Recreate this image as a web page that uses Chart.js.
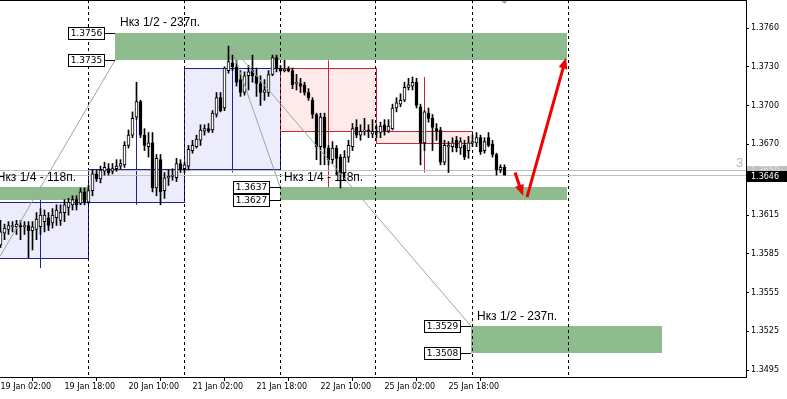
<!DOCTYPE html>
<html><head><meta charset="utf-8">
<script src="https://cdn.jsdelivr.net/npm/chart.js@4.4.1/dist/chart.umd.min.js"></script>
<style>html,body{margin:0;padding:0;background:#fff;overflow:hidden}#wrap{width:787px;height:399px;position:relative}</style>
</head><body><div id="wrap"><canvas id="c" width="787" height="399"></canvas></div>
<script>
// H1 bars, hour index counted in trading hours from 19 Jan 00:00
const firstBarHour = 2;
const barOpen = [
1.3592,1.3601,1.3604,1.3606,1.3606,1.3607,1.3606,1.3607,1.3603,1.3604,
1.3606,1.3610,1.3613,1.3609,1.3613,1.3611,1.3617,1.3621,1.3623,1.3627,
1.3624,1.3633,1.3625,1.3634,1.3647,1.3643,1.3649,1.3651,1.3649,1.3651,
1.3653,1.3654,1.3669,1.3677,1.3691,1.3703,1.3677,1.3668,1.3671,1.3636,
1.3658,1.3634,1.3644,1.3645,1.3644,1.3655,1.3651,1.3653,1.3665,1.3668,
1.3673,1.3680,1.3682,1.3681,1.3693,1.3706,1.3698,1.3727,1.3733,1.3730,
1.3720,1.3710,1.3723,1.3727,1.3723,1.3717,1.3710,1.3710,1.3724,1.3737,
1.3729,1.3727,1.3728,1.3727,1.3717,1.3717,1.3716,1.3710,1.3704,1.3693,
1.3668,1.3691,1.3667,1.3658,1.3667,1.3660,1.3648,1.3660,1.3668,1.3683,
1.3677,1.3680,1.3681,1.3678,1.3680,1.3679,1.3685,1.3680,1.3682,1.3698,
1.3701,1.3704,1.3714,1.3715,1.3718,1.3699,1.3671,1.3694,1.3690,1.3682,
1.3681,1.3656,1.3668,1.3668,1.3673,1.3667,1.3669,1.3665,1.3671,1.3671,
1.3675,1.3665,1.3675,1.3670,1.3662,1.3650,1.3652];
const barHigh = [
1.3611,1.3608,1.3610,1.3610,1.3611,1.3611,1.3610,1.3610,1.3610,1.3617,
1.3620,1.3619,1.3617,1.3620,1.3623,1.3623,1.3627,1.3628,1.3630,1.3630,
1.3636,1.3636,1.3638,1.3650,1.3650,1.3653,1.3656,1.3655,1.3655,1.3658,
1.3658,1.3672,1.3681,1.3695,1.3718,1.3704,1.3682,1.3679,1.3679,1.3662,
1.3662,1.3648,1.3650,1.3651,1.3659,1.3658,1.3656,1.3669,1.3673,1.3677,
1.3685,1.3685,1.3686,1.3696,1.3710,1.3710,1.3730,1.3746,1.3739,1.3735,
1.3727,1.3726,1.3731,1.3739,1.3729,1.3723,1.3720,1.3727,1.3739,1.3739,
1.3731,1.3735,1.3730,1.3729,1.3724,1.3721,1.3718,1.3713,1.3706,1.3694,
1.3694,1.3694,1.3669,1.3672,1.3669,1.3662,1.3665,1.3673,1.3686,1.3689,
1.3685,1.3690,1.3685,1.3689,1.3685,1.3687,1.3689,1.3689,1.3701,1.3706,
1.3709,1.3718,1.3721,1.3722,1.3721,1.3701,1.3696,1.3698,1.3693,1.3686,
1.3683,1.3673,1.3672,1.3675,1.3676,1.3675,1.3673,1.3676,1.3677,1.3679,
1.3677,1.3675,1.3679,1.3673,1.3663,1.3654,1.3654];
const barLow = [
1.3590,1.3596,1.3600,1.3602,1.3600,1.3596,1.3600,1.3582,1.3588,1.3596,
1.3600,1.3602,1.3603,1.3605,1.3607,1.3607,1.3610,1.3615,1.3619,1.3619,
1.3623,1.3623,1.3624,1.3630,1.3641,1.3640,1.3646,1.3646,1.3647,1.3649,
1.3651,1.3652,1.3667,1.3675,1.3689,1.3675,1.3665,1.3660,1.3633,1.3630,
1.3623,1.3628,1.3638,1.3642,1.3641,1.3648,1.3648,1.3650,1.3663,1.3667,
1.3669,1.3677,1.3679,1.3679,1.3691,1.3695,1.3696,1.3725,1.3727,1.3715,
1.3707,1.3708,1.3712,1.3718,1.3707,1.3700,1.3704,1.3707,1.3723,1.3726,
1.3726,1.3726,1.3726,1.3713,1.3712,1.3710,1.3708,1.3704,1.3690,1.3658,
1.3654,1.3654,1.3654,1.3655,1.3646,1.3636,1.3642,1.3656,1.3665,1.3675,
1.3673,1.3677,1.3675,1.3675,1.3675,1.3675,1.3677,1.3679,1.3681,1.3695,
1.3699,1.3703,1.3712,1.3712,1.3698,1.3654,1.3665,1.3687,1.3665,1.3673,
1.3654,1.3654,1.3648,1.3664,1.3664,1.3662,1.3658,1.3659,1.3668,1.3668,
1.3662,1.3663,1.3668,1.3660,1.3646,1.3648,1.3646];
const barClose = [
1.3602,1.3605,1.3607,1.3607,1.3608,1.3606,1.3607,1.3603,1.3606,1.3612,
1.3615,1.3615,1.3607,1.3615,1.3619,1.3617,1.3623,1.3625,1.3627,1.3623,
1.3633,1.3625,1.3634,1.3647,1.3643,1.3650,1.3652,1.3648,1.3651,1.3653,
1.3655,1.3669,1.3677,1.3690,1.3703,1.3677,1.3669,1.3671,1.3636,1.3659,
1.3633,1.3644,1.3645,1.3646,1.3655,1.3651,1.3654,1.3666,1.3669,1.3674,
1.3681,1.3682,1.3680,1.3694,1.3706,1.3696,1.3729,1.3734,1.3730,1.3718,
1.3710,1.3723,1.3726,1.3723,1.3717,1.3710,1.3712,1.3724,1.3737,1.3729,
1.3727,1.3728,1.3727,1.3716,1.3718,1.3715,1.3710,1.3706,1.3693,1.3668,
1.3691,1.3667,1.3658,1.3667,1.3659,1.3648,1.3660,1.3669,1.3682,1.3677,
1.3680,1.3681,1.3680,1.3680,1.3679,1.3684,1.3680,1.3684,1.3698,1.3702,
1.3704,1.3714,1.3716,1.3718,1.3700,1.3671,1.3695,1.3690,1.3683,1.3680,
1.3656,1.3669,1.3669,1.3671,1.3667,1.3672,1.3660,1.3671,1.3672,1.3675,
1.3664,1.3672,1.3669,1.3662,1.3650,1.3652,1.3646];

// axis ticks
const timeTickHours = [2,18,34,50,66,82,98,114];
const timeTickLabels = ['19 Jan 02:00','19 Jan 18:00','20 Jan 10:00','21 Jan 02:00','21 Jan 18:00','22 Jan 10:00','25 Jan 02:00','25 Jan 18:00'];
const priceTicks = [1.3760,1.3730,1.3700,1.3670,1.3615,1.3585,1.3555,1.3525,1.3495];
const daySeparatorHours = [24,48,72,96,120,144];

// daily candles drawn as boxes
const dayStartHour = [0,24,48,72,96];
const dayOpen  = [1.3582,1.3625,1.3651,1.3729,1.3680];
const dayHigh  = [1.3637,1.3718,1.3746,1.3735,1.3722];
const dayLow   = [1.3574,1.3623,1.3648,1.3636,1.3648];
const dayClose = [1.3625,1.3651,1.3729,1.3680,1.3671];

// green zones
const zoneFromHour = [30.75, -2, 72, 119.75];
const zoneToHour   = [143.75, 24, 143.75, 167.5];
const zoneTop      = [1.3756, 1.3637, 1.3637, 1.3529];
const zoneBottom   = [1.3735, 1.3627, 1.3627, 1.3508];
const zoneLabelled = [true, false, true, true];

// notes
const noteText  = ['Нкз 1/2 - 237п.','Нкз 1/4 - 118п.','Нкз 1/4 - 118п.','Нкз 1/2 - 237п.'];
const noteHour  = [32, 1.2, 73, 121.25];
const notePrice = [1.3764, 1.3644, 1.3644, 1.3536];

// thin trend lines
const trendFromHour  = [2, 59.75, 59.75];
const trendFromPrice = [1.3583, 1.3746, 1.3746];
const trendToHour    = [30.75, 72, 119.75];
const trendToPrice   = [1.3735, 1.3637, 1.3529];

// red arrows
const arrowFromHour  = [130.75, 133.75];
const arrowFromPrice = [1.3648, 1.3629];
const arrowToHour    = [132.75, 143.5];
const arrowToPrice   = [1.3630, 1.3737];

const bidPrice = 1.3646, askPrice = 1.3650;
const spreadText = '3';

const FAM = '"DejaVu Sans", Verdana, sans-serif';
const AXF = '8px ' + FAM;

const hours = barOpen.map((_, i) => firstBarHour + i);
const wickData = hours.map((h, i) => ({x: h, y: [barLow[i], barHigh[i]]}));
const bodyData = hours.map((h, i) => ({x: h, y: [barOpen[i], barClose[i]]}));
const bodyColors = hours.map((h, i) => barClose[i] > barOpen[i] ? '#ffffff' : '#000000');

const bgPlugin = {
  id: 'bg',
  beforeDatasetsDraw(chart) {
    const {ctx, chartArea: a, scales: {x, y}} = chart;
    ctx.save();
    ctx.beginPath(); ctx.rect(a.left, a.top, a.right - a.left, a.bottom - a.top); ctx.clip();
    // daily boxes
    dayStartHour.forEach((h, i) => {
      const bull = dayClose[i] >= dayOpen[i];
      const x0 = Math.round(x.getPixelForValue(h - 0.125)) + 0.5;
      const x1 = Math.round(x.getPixelForValue(h + 24 - 0.125)) + 0.5;
      const yo = Math.round(y.getPixelForValue(dayOpen[i])) + 0.5;
      const yc = Math.round(y.getPixelForValue(dayClose[i])) + 0.5;
      ctx.fillStyle = bull ? 'rgb(236,236,252)' : 'rgb(255,234,234)';
      ctx.strokeStyle = bull ? 'rgb(32,32,156)' : 'rgb(200,36,56)';
      ctx.lineWidth = 1;
      ctx.fillRect(x0, Math.min(yo, yc), x1 - x0, Math.abs(yc - yo));
      ctx.strokeRect(x0, Math.min(yo, yc), x1 - x0, Math.abs(yc - yo));
      const xm = Math.round(x.getPixelForValue(h + 12 - 0.125)) + 0.5;
      ctx.beginPath();
      ctx.moveTo(xm, y.getPixelForValue(dayHigh[i]));
      ctx.lineTo(xm, y.getPixelForValue(dayLow[i]));
      ctx.stroke();
    });
    // green zones
    ctx.fillStyle = 'rgb(143,188,143)';
    zoneFromHour.forEach((h, i) => {
      const x0 = Math.round(x.getPixelForValue(h - 0.125));
      const x1 = Math.round(x.getPixelForValue(zoneToHour[i] - 0.125));
      const y0 = Math.round(y.getPixelForValue(zoneTop[i]));
      const y1 = Math.round(y.getPixelForValue(zoneBottom[i]));
      ctx.fillRect(x0, y0, x1 - x0, y1 - y0);
    });
    // day separators
    ctx.strokeStyle = '#000'; ctx.setLineDash([3, 3]); ctx.lineWidth = 1;
    daySeparatorHours.forEach(h => {
      const xp = Math.round(x.getPixelForValue(h)) - 0.5;
      ctx.beginPath(); ctx.moveTo(xp, a.top); ctx.lineTo(xp, a.bottom); ctx.stroke();
    });
    ctx.setLineDash([]);
    // bid / ask lines
    ctx.strokeStyle = 'rgb(192,192,192)';
    [askPrice, bidPrice].forEach(p => {
      const yp = Math.round(y.getPixelForValue(p)) + 0.5;
      ctx.beginPath(); ctx.moveTo(a.left, yp); ctx.lineTo(a.right, yp); ctx.stroke();
    });
    ctx.restore();
  }
};

function arrowHead(ctx, x0, y0, x1, y1, len, wid) {
  const ang = Math.atan2(y1 - y0, x1 - x0);
  ctx.beginPath();
  ctx.moveTo(x1, y1);
  ctx.lineTo(x1 - len * Math.cos(ang) + wid * Math.sin(ang), y1 - len * Math.sin(ang) - wid * Math.cos(ang));
  ctx.lineTo(x1 - len * Math.cos(ang) - wid * Math.sin(ang), y1 - len * Math.sin(ang) + wid * Math.cos(ang));
  ctx.closePath(); ctx.fill();
}

const fgPlugin = {
  id: 'fg',
  afterDatasetsDraw(chart) {
    const {ctx, chartArea: a, scales: {x, y}} = chart;
    ctx.save();
    ctx.beginPath(); ctx.rect(a.left, a.top, a.right - a.left, a.bottom - a.top); ctx.clip();
    // trend lines
    ctx.strokeStyle = 'rgb(150,172,150)'; ctx.lineWidth = 1;
    trendFromHour.forEach((h, i) => {
      ctx.beginPath();
      ctx.moveTo(x.getPixelForValue(h - 0.125), y.getPixelForValue(trendFromPrice[i]));
      ctx.lineTo(x.getPixelForValue(trendToHour[i] - 0.125), y.getPixelForValue(trendToPrice[i]));
      ctx.stroke();
    });
    // zone price labels
    ctx.font = '9px ' + FAM; ctx.textAlign = 'center'; ctx.textBaseline = 'middle';
    zoneFromHour.forEach((h, i) => {
      if (!zoneLabelled[i]) return;
      const xl = Math.round(x.getPixelForValue(h - 0.125));
      [zoneTop[i], zoneBottom[i]].forEach(p => {
        const yp = Math.round(y.getPixelForValue(p));
        ctx.strokeStyle = '#000'; ctx.lineWidth = 1;
        ctx.beginPath(); ctx.moveTo(xl - 10, yp + 0.5); ctx.lineTo(xl, yp + 0.5); ctx.stroke();
        ctx.fillStyle = '#fff';
        ctx.fillRect(xl - 46.5, yp - 5.5, 36, 12);
        ctx.strokeRect(xl - 46.5, yp - 5.5, 36, 12);
        ctx.fillStyle = '#000';
        ctx.fillText(p.toFixed(4), xl - 28.5, yp + 1);
      });
    });
    // notes
    ctx.font = '12px "Liberation Sans", Arial, sans-serif';
    ctx.textAlign = 'left'; ctx.fillStyle = '#000';
    noteText.forEach((t, i) => {
      ctx.fillText(t, x.getPixelForValue(noteHour[i] - 0.125), y.getPixelForValue(notePrice[i]));
    });
    // spread text
    ctx.fillStyle = 'rgb(180,180,180)'; ctx.font = '13px "Liberation Sans", Arial, sans-serif';
    ctx.fillText(spreadText, 736, y.getPixelForValue(1.3655));
    // red arrows
    ctx.strokeStyle = 'rgb(240,0,0)'; ctx.fillStyle = 'rgb(240,0,0)'; ctx.lineWidth = 3;
    arrowFromHour.forEach((h, i) => {
      const x0 = x.getPixelForValue(h - 0.125), y0 = y.getPixelForValue(arrowFromPrice[i]);
      const x1 = x.getPixelForValue(arrowToHour[i] - 0.125), y1 = y.getPixelForValue(arrowToPrice[i]);
      const ang = Math.atan2(y1 - y0, x1 - x0);
      ctx.beginPath(); ctx.moveTo(x0, y0); ctx.lineTo(x1 - 8 * Math.cos(ang), y1 - 8 * Math.sin(ang)); ctx.stroke();
      arrowHead(ctx, x0, y0, x1, y1, 11, 4.5);
    });
    // shift marker
    ctx.fillStyle = 'rgb(170,170,170)';
    const sx = x.getPixelForValue(128);
    ctx.beginPath(); ctx.moveTo(sx - 4, 0); ctx.lineTo(sx + 4, 0); ctx.lineTo(sx, 4); ctx.closePath(); ctx.fill();
    ctx.restore();
  },
  afterDraw(chart) {
    const {ctx, chartArea: a, scales: {y}} = chart;
    ctx.save();
    // top border
    ctx.strokeStyle = '#000'; ctx.lineWidth = 1;
    ctx.beginPath(); ctx.moveTo(0, 0.5); ctx.lineTo(a.right, 0.5); ctx.stroke();
    ctx.font = AXF; ctx.textAlign = 'left'; ctx.textBaseline = 'middle';
    const ya = Math.round(y.getPixelForValue(askPrice));
    ctx.fillStyle = 'rgb(192,192,192)';
    ctx.fillRect(a.right + 1, ya - 4, 40, 11);
    ctx.fillStyle = 'rgb(225,225,225)';
    ctx.fillText(askPrice.toFixed(4), a.right + 5, ya + 1);
    const yb = Math.round(y.getPixelForValue(bidPrice));
    ctx.fillStyle = '#000';
    ctx.fillRect(a.right + 1, yb - 4, 40, 11);
    ctx.fillStyle = '#fff';
    ctx.fillText(bidPrice.toFixed(4), a.right + 5, yb + 1.5);
    ctx.restore();
  }
};

new Chart(document.getElementById('c'), {
  type: 'bar',
  data: {datasets: [
    {data: wickData, backgroundColor: '#000', barThickness: 1, grouped: false, order: 2, borderWidth: 0},
    {data: bodyData, backgroundColor: bodyColors, borderColor: '#000', borderWidth: 1, borderSkipped: false,
     barThickness: 3, minBarLength: 1, grouped: false, order: 1}
  ]},
  options: {
    responsive: false, animation: false, devicePixelRatio: 1,
    layout: {padding: 0},
    plugins: {legend: {display: false}, tooltip: {enabled: false}},
    scales: {
      x: {
        type: 'linear', min: 1.875, max: 188.375, offset: false,
        afterBuildTicks: s => { s.ticks = timeTickHours.map(v => ({value: v})); },
        afterFit: s => { s.height = 22; s.paddingLeft = 0; s.paddingRight = 0; },
        grid: {drawOnChartArea: false, drawTicks: true, tickLength: 4, color: '#000'},
        border: {display: true, color: '#000'},
        ticks: {autoSkip: false, maxRotation: 0, align: 'start', padding: 1, color: '#000', font: {family: FAM, size: 8},
          callback: v => timeTickLabels[timeTickHours.indexOf(v)] || ''}
      },
      y: {
        position: 'right', min: 1.348958, max: 1.378170,
        afterBuildTicks: s => { s.ticks = priceTicks.map(v => ({value: v})); },
        afterFit: s => { s.width = 41; s.paddingTop = 0; s.paddingBottom = 0; },
        grid: {drawOnChartArea: false, drawTicks: true, tickLength: 3, color: '#000'},
        border: {display: true, color: '#000'},
        ticks: {autoSkip: false, padding: 2, color: '#000', font: {family: FAM, size: 8},
          callback: v => v.toFixed(4)}
      }
    }
  },
  plugins: [bgPlugin, fgPlugin]
});
</script></body></html>
